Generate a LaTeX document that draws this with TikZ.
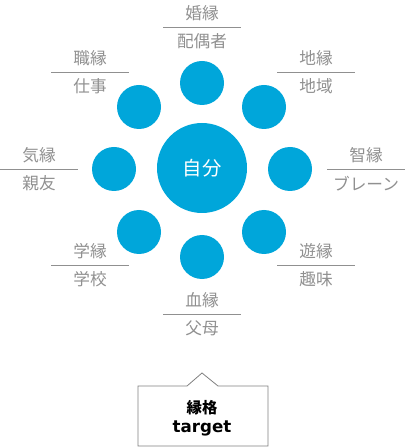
\documentclass[tikz,border=0pt]{standalone}
\usepackage{fontspec}
\setmainfont{Noto Sans CJK JP}
\newfontfamily\latinbold{DejaVu Sans}
\definecolor{enblue}{HTML}{00A6DA}
\definecolor{engray}{HTML}{909090}

\begin{document}
\begin{tikzpicture}[x=0.75pt,y=-0.75pt,
        dot/.style={circle,fill=enblue,inner sep=0pt,minimum size=44*0.75pt},
        self/.style={circle,fill=enblue,inner sep=0pt,minimum size=90*0.75pt,
            text=white,font=\fontsize{14.5}{14.5}\selectfont},
        entext/.style={text=engray,inner sep=0pt,font=\fontsize{12.5}{12.5}\selectfont},
        callout/.style={draw=gray,line width=0.6pt}]
        \useasboundingbox (0,0) rectangle (406,448);
        % The self in the middle
        \node[self] (self) at (202,168) {自分};
        % The eight ties around it
        \foreach \nm/\x/\y in {kon/202/83, shoku/139/107, chi/264/107, ki/114/169,
                chie/290/169, gaku/139/232, yuu/264/232, ketsu/202/257}
            \node[dot] (\nm) at (\x,\y) {};
        % Their labels, a bar between the two words
        \foreach \nm/\x/\y/\up/\dn in {kon/202/13/婚縁/配偶者, shoku/90/58/職縁/仕事,
                chi/316/58/地縁/地域, ki/39/155/気縁/親友, chie/366/155/智縁/ブレーン,
                gaku/90/251/学縁/学校, yuu/316/251/遊縁/趣味, ketsu/202/300/血縁/父母} {
            \node[entext] (\nm-up) at (\x,\y) {\up};
            \node[entext] (\nm-dn) at (\x,\y+28.5) {\dn};
            \draw[engray,line width=0.8pt] (\x-39,\y+14.5) -- (\x+39,\y+14.5);
        }
        % The callout at the bottom
        \draw[callout] (138,386) -- (187,386) -- (202,373) -- (218,386)
            -- (268,386) -- (268,446) -- (138,446) -- cycle;
        \node[inner sep=0pt,font=\fontsize{11.5}{11.5}\bfseries] (kaku) at (202,408) {縁格};
        \node[inner sep=0pt,font=\fontsize{12.5}{12.5}\latinbold\bfseries] (target) at (202,428) {target};
    \end{tikzpicture}
\end{document}
